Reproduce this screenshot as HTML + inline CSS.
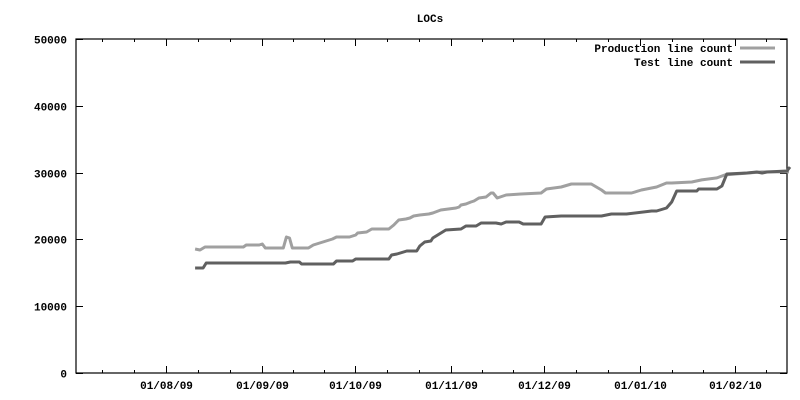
<!DOCTYPE html>
<html><head><meta charset="utf-8"><style>
body{margin:0;background:#fff}
svg{display:block}
text{font-family:"Liberation Mono",monospace;font-size:11px;font-weight:bold;fill:#000}
</style></head><body>
<svg width="800" height="400" id="chart">
<text x="430" y="22" text-anchor="middle">LOCs</text>
</svg>
<script>
// days since 01/08/09
const prodDays=[9.4,11,12.6,25,25.9,30.1,31.1,32.1,37.9,38.9,39.9,40.8,46,47.6,53.8,55.1,59.3,61.3,61.9,64.8,66.5,72,73.6,75.2,77.5,78.8,80,82,84.9,86.2,88.8,93.7,94.7,95.3,96.9,98.5,99.5,101.1,103.4,105,105.7,107,109.9,114.7,121.2,122.9,127.7,131,137.4,140.7,142,150.4,153.6,158.5,161.7,163.4,169.9,173.1,178,180.6,192.6,201.3];
const prodVals=[18560,18410,18860,18860,19160,19160,19310,18710,18710,20360,20210,18710,18710,19160,20060,20360,20360,20660,20960,21110,21560,21560,22160,22900,23050,23200,23500,23650,23800,23950,24400,24700,24850,25150,25300,25600,25750,26200,26350,26950,26950,26200,26650,26800,26950,27550,27850,28300,28300,27400,26950,26950,27400,27850,28450,28450,28600,28900,29200,29650,30100,30100];
const testDays=[9.4,12,13,38.6,40.2,43.1,43.8,54.1,55.1,60.3,61.3,72,72.9,74.6,77.8,81,82,83.6,85.6,86.2,90.4,95.3,96.9,100.2,101.8,106.6,108.3,109.9,114.1,115.4,121.2,122.5,127.7,140.7,143.9,148.8,156.9,158.5,161.7,163.4,165,171.5,172.1,178,179.6,181.2,187.7,190.9,192.6,194.2,200.6,201.6];
const testVals=[15720,15720,16470,16470,16620,16620,16320,16320,16770,16770,17070,17070,17670,17810,18260,18260,19010,19610,19760,20210,21400,21560,22010,22010,22460,22460,22310,22610,22610,22310,22310,23350,23500,23500,23800,23800,24250,24250,24700,25600,27250,27250,27550,27550,27990,29790,29940,30090,29940,30090,30240,30840];
const monthDays=[0,31,61,92,122,153,184];
const monthLabels=["01/08/09","01/09/09","01/10/09","01/11/09","01/12/09","01/01/10","01/02/10"];
const yTicks=[0,10000,20000,30000,40000,50000];

const L=76,R=787,T=39,B=373;
const X=d=>166+d*3.095;
const Y=v=>B-v/50000*(B-T);
const svg=document.getElementById('chart');
const NS='http://www.w3.org/2000/svg';
function mk(tag,attrs,parent){const e=document.createElementNS(NS,tag);for(const k in attrs)e.setAttribute(k,attrs[k]);(parent||svg).appendChild(e);return e;}

const frame=mk('rect',{x:L,y:T,width:R-L,height:B-T,fill:'none',stroke:'#000','stroke-width':1.2});



yTicks.forEach(v=>{
  const y=Math.round(Y(v))+0.5;
  const t=mk('path',{d:`M${L} ${y}h7M${R} ${y}h-7`,stroke:'#000','stroke-width':1});
  
  
  const lb=mk('text',{x:67,y:y+4,'text-anchor':'end'});lb.textContent=v;
  
  
});
function xtick(x,len){
  const t=mk('path',{d:`M${x} ${B}v-${len}M${x} ${T}v${len}`,stroke:'#000','stroke-width':1});
  
  
}
monthDays.forEach((d,i)=>{
  const x=Math.round(X(d))+0.5;
  xtick(x,7);
  const lb=mk('text',{x:x,y:389,'text-anchor':'middle'});lb.textContent=monthLabels[i];
  
  
});
for(let i=-1;i<monthDays.length;i++){
  const a=i<0?monthDays[0]-31:monthDays[i];
  const b=i+1<monthDays.length?monthDays[i+1]:a+30;
  [1,2].forEach(k=>{const x=Math.round(X(a+(b-a)*k/3))+0.5;if(x>L+2&&x<R-2)xtick(x,3);});
}
function series(days,vals,color,name){
  const p=mk('polyline',{points:days.map((d,i)=>X(d).toFixed(1)+','+Y(vals[i]).toFixed(1)).join(' '),fill:'none',stroke:color,'stroke-width':3,'stroke-linejoin':'round'});
  
  
}
series(prodDays,prodVals,'#a0a0a0','production-line');
series(testDays,testVals,'#606060','test-line');

[['Production line count','#a0a0a0',52],['Test line count','#606060',66]].forEach(([t,c,y])=>{
  const lb=mk('text',{x:733,y:y,'text-anchor':'end'});lb.textContent=t;
  
  
  const ln=mk('line',{x1:740,x2:775,y1:y-4,y2:y-4,stroke:c,'stroke-width':3});
  
  
});
</script>
</body></html>
